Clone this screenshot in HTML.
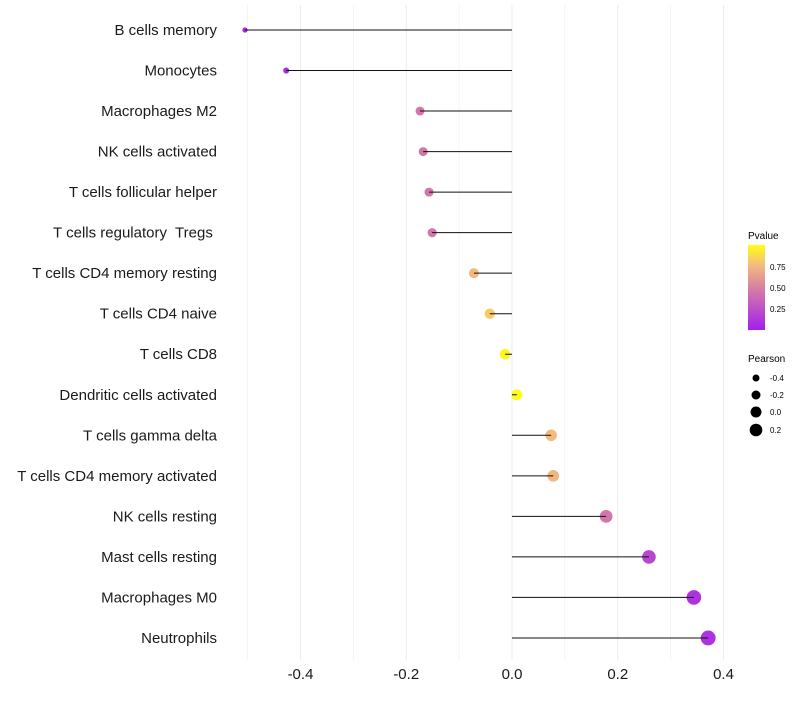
<!DOCTYPE html>
<html><head><meta charset="utf-8"><style>
body{margin:0;background:#fff;font-family:"Liberation Sans",sans-serif}
svg text{font-family:"Liberation Sans",sans-serif;white-space:pre}
</style></head><body>
<svg id="chart" width="800" height="700" xmlns="http://www.w3.org/2000/svg" xml:space="preserve">
<defs><linearGradient id="pg" x1="0" y1="1" x2="0" y2="0">
<stop offset="0" stop-color="#a31ff0"/><stop offset="0.5" stop-color="#d880a2"/><stop offset="0.78" stop-color="#f4c07a"/><stop offset="1" stop-color="#ffff10"/></linearGradient></defs>
<g id="grid"></g>
<g id="marks"></g>
<g id="axes"></g>
<g>
<text x="748" y="239" font-size="10">Pvalue</text>
<rect x="748" y="245" width="17" height="85" fill="url(#pg)"/>
<text x="770" y="270" font-size="8">0.75</text>
<text x="770" y="291" font-size="8">0.50</text>
<text x="770" y="312" font-size="8">0.25</text>
</g>
<g>
<text x="748" y="362" font-size="10">Pearson</text>
<circle cx="756" cy="378" r="3.5"/><text x="770" y="381" font-size="8">-0.4</text>
<circle cx="756" cy="395" r="4.5"/><text x="770" y="398" font-size="8">-0.2</text>
<circle cx="756" cy="412" r="5.5"/><text x="770" y="415" font-size="8">0.0</text>
<circle cx="756" cy="430" r="6.3"/><text x="770" y="433" font-size="8">0.2</text>
</g>
</svg>
<script>
const categories=["B cells memory","Monocytes","Macrophages M2","NK cells activated","T cells follicular helper","T cells regulatory  Tregs ","T cells CD4 memory resting","T cells CD4 naive","T cells CD8","Dendritic cells activated","T cells gamma delta","T cells CD4 memory activated","NK cells resting","Mast cells resting","Macrophages M0","Neutrophils"];
const pearson=[-0.505,-0.427,-0.174,-0.168,-0.157,-0.151,-0.072,-0.042,-0.013,0.009,0.074,0.078,0.178,0.259,0.344,0.371];
const pvalue=[0.05,0.07,0.45,0.45,0.45,0.45,0.75,0.82,0.97,0.99,0.76,0.74,0.45,0.2,0.1,0.1];
const xTicks=[-0.4,-0.2,0.0,0.2,0.4];
const xTickLabels=["-0.4","-0.2","0.0","0.2","0.4"];
const NS="http://www.w3.org/2000/svg";
const x=v=>512+v*528.75;
const y=i=>30+i*40.53;
const r=v=>5.4+5.5*v;
function lerp(a,b,t){return a.map((c,k)=>Math.round(c+(b[k]-c)*t));}
function col(p){const s=[[0,[163,31,240]],[0.5,[216,128,162]],[0.78,[244,192,122]],[1,[255,255,16]]];
for(let k=1;k<s.length;k++){if(p<=s[k][0]){const t=(p-s[k-1][0])/(s[k][0]-s[k-1][0]);return "rgb("+lerp(s[k-1][1],s[k][1],t).join(",")+")";}}return "rgb(255,255,16)";}
function mk(tag,attrs,parent){const e=document.createElementNS(NS,tag);for(const k in attrs)e.setAttribute(k,attrs[k]);parent.appendChild(e);return e;}
const grid=document.getElementById("grid"),marks=document.getElementById("marks"),axes=document.getElementById("axes");
for(let v=-0.5;v<=0.41;v+=0.1){const g=mk("line",{x1:x(v),x2:x(v),y1:5,y2:660,stroke:"#ececec","stroke-width":Math.abs(Math.round(v*10))%2==0?1:0.6},grid);

}
categories.forEach((c,i)=>{
const t=mk("text",{x:217,y:y(i)+5,"text-anchor":"end","font-size":"15",fill:"#1a1a1a"},axes);t.textContent=c;


const p=mk("circle",{cx:x(pearson[i]),cy:y(i),r:r(pearson[i]),fill:col(pvalue[i])},marks);


const l=mk("line",{x1:x(pearson[i]),x2:x(0),y1:y(i),y2:y(i),stroke:"#111","stroke-width":1},marks);


});
xTicks.forEach((v,k)=>{const t=mk("text",{x:x(v),y:679,"text-anchor":"middle","font-size":"15",fill:"#1a1a1a"},axes);t.textContent=xTickLabels[k];

});
</script>
</body></html>
